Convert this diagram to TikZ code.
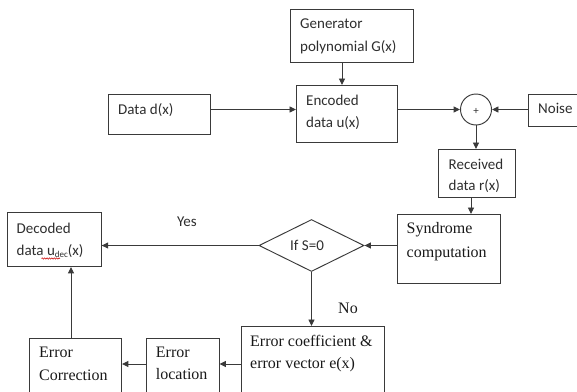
\documentclass[tikz,border=0pt]{standalone}
\usepackage{fontspec}
\setmainfont{Carlito}
\newfontfamily\serifface{Liberation Serif}
\usetikzlibrary{arrows.meta,shapes.geometric,decorations.pathmorphing}
\definecolor{ink}{HTML}{2E2E2E}
\definecolor{wire}{HTML}{3A3A3A}
\begin{document}
\begin{tikzpicture}[x=1pt,y=-1pt,
  box/.style={draw=wire, line width=0.95pt, inner sep=0pt, anchor=north west},
  cal/.style={inner sep=0pt, anchor=base west, text=ink, font=\fontsize{15}{18}\selectfont},
  tim/.style={inner sep=0pt, anchor=base west, text=black!90, font=\serifface\fontsize{16}{19}\selectfont},
  arr/.style={draw=wire, line width=0.95pt, -{Triangle[length=6.5pt,width=6pt]}}]
\useasboundingbox (0,0) rectangle (577,391);
\clip (0,0) rectangle (577,391);

% blocks
\node[box, minimum width=122.5, minimum height=53]   (gen)   at (290,9) {};
\node[box, minimum width=101,   minimum height=56.7] (enc)   at (296,85) {};
\node[box, minimum width=101.6, minimum height=40]   (data)  at (108,94) {};
\node[box, minimum width=80,    minimum height=32]   (noise) at (528,94) {};
\node[box, minimum width=77,    minimum height=48]   (recv)  at (438,149) {};
\node[box, minimum width=102.7, minimum height=69]   (synd)  at (397,214) {};
\node[box, minimum width=93.7,  minimum height=54.3] (dec)   at (7,211.7) {};
\node[box, minimum width=143.3, minimum height=90]   (coef)  at (240.7,326) {};
\node[box, minimum width=72.8,  minimum height=80]   (loc)   at (145.7,337.7) {};
\node[box, minimum width=91.7,  minimum height=80]   (corr)  at (29.3,337.7) {};
\node[draw=wire, line width=0.95pt, circle, minimum size=31, inner sep=0pt]
  (sum) at (476,109.5) {};
\node[inner sep=0pt, text=ink, font=\fontsize{11}{11}\selectfont] (plus) at (476,111.5) {+};
\node[draw=wire, line width=0.95pt, diamond, minimum width=105, minimum height=52, inner sep=0pt]
  (dia) at (311.5,245.5) {};

% block texts
\node[cal] (gen-a)   at (300,28.5)  {Generator};
\node[cal] (gen-b)   at (300,51.5)  {polynomial G(x)};
\node[cal] (enc-a)   at (306,105)   {Encoded};
\node[cal] (enc-b)   at (306,127)   {data u(x)};
\node[cal] (data-t)  at (118,114)   {Data d(x)};
\node[cal] (noise-t) at (538,113.5) {Noise};
\node[cal] (recv-a)  at (448.5,169) {Received};
\node[cal] (recv-b)  at (448.5,190.5) {data r(x)};
\node[cal] (dec-a)   at (16.5,233)  {Decoded};
\node[cal] (dec-b)   at (16.5,255)  {data u\raisebox{-2.5pt}{\fontsize{9}{9}\selectfont dec}(x)};
\node[cal] (ifs)     at (290,250.5) {If S=0};
\node[cal, anchor=base] (yes) at (187,226) {Yes};
\node[tim] (synd-a)  at (406.5,233.5) {Syndrome};
\node[tim] (synd-b)  at (406.5,257.5) {computation};
\node[tim] (coef-a)  at (250,346.5) {Error coefficient \&};
\node[tim] (coef-b)  at (250,368.5) {error vector e(x)};
\node[tim] (loc-a)   at (155.7,357) {Error};
\node[tim] (loc-b)   at (155.7,379.5) {location};
\node[tim] (corr-a)  at (39,357)    {Error};
\node[tim] (corr-b)  at (39,380)    {Correction};
\node[tim, anchor=base] (no) at (348,313) {No};

% spell-check underline
\draw[red!80!black, line width=0.5pt, decorate,
  decoration={snake, amplitude=0.7pt, segment length=2.4pt}] (41.5,258.5) -- (60,258.5);

% connectors
\coordinate (r1) at (0,109.5);
\coordinate (cg) at (342,0);
\coordinate (cr) at (471,0);
\coordinate (r3) at (0,364);
\coordinate (cc) at (71,0);
\draw[arr] (data.east |- r1) -- (enc.west |- r1);
\draw[arr] (enc.east |- r1) -- (sum.west);
\draw[arr] (noise.west |- r1) -- (sum.east);
\draw[arr] (gen.south -| cg) -- (enc.north -| cg);
\draw[arr] (sum.south) -- (recv.north -| sum.south);
\draw[arr] (recv.south -| cr) -- (synd.north -| cr);
\draw[arr] (synd.west |- dia.east) -- (dia.east);
\draw[arr] (dia.west) -- (dec.east |- dia.west);
\draw[arr] (dia.south) -- (coef.north -| dia.south);
\draw[arr] (coef.west |- r3) -- (loc.east |- r3);
\draw[arr] (loc.west |- r3) -- (corr.east |- r3);
\draw[arr] (corr.north -| cc) -- (dec.south -| cc);
\end{tikzpicture}
\end{document}
